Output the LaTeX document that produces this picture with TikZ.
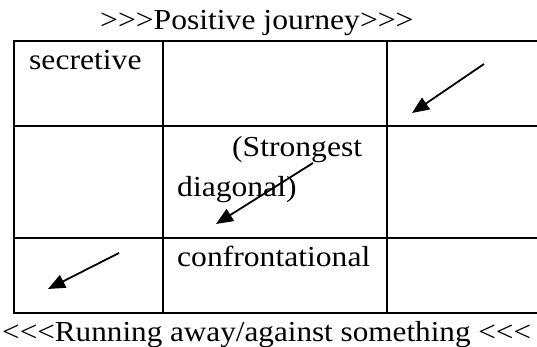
\documentclass[tikz,border=0pt]{standalone}
\usepackage{fontspec}
\setmainfont{Liberation Serif}[Ligatures=TeXOff]
\usepackage{graphicx}
\usetikzlibrary{arrows.meta}
\newcommand{\stretchtxt}[1]{\scalebox{1.09}[1]{#1}}
\tikzset{
  lbl/.style={anchor=base west, inner sep=0pt, font=\fontsize{29}{35}\selectfont},
  gridline/.style={line width=2pt},
  arr/.style={line width=1.8pt, -{Triangle[length=17pt,width=14pt]}}
}
\begin{document}
\begin{tikzpicture}[x=1pt,y=1pt]
\useasboundingbox (0,0) rectangle (537,347);
% table
\draw[gridline] (14,306) -- (537,306);
\draw[gridline] (14,221) -- (537,221);
\draw[gridline] (14,109) -- (537,109);
\draw[gridline] (14,34) -- (537,34);
\draw[gridline] (14,307) -- (14,33);
\draw[gridline] (163,307) -- (163,33);
\draw[gridline] (387,307) -- (387,33);
% texts
\node[lbl] (title) at (100,317) {\stretchtxt{>{}>{}>Positive journey>{}>{}>}};
\node[lbl] (secretive) at (29,277) {\stretchtxt{secretive}};
\node[lbl] (strongest) at (232,190) {\stretchtxt{(Strongest}};
\node[lbl] (diagonal) at (177,150) {\stretchtxt{diagonal)}};
\node[lbl] (confront) at (177,80) {\stretchtxt{confrontational}};
\node[lbl] (running) at (2,5) {\scalebox{1.075}[1]{<{}<{}<Running away/against something <{}<{}<}};
% arrows
\coordinate (a1s) at (484,283); \coordinate (a1e) at (412,234);
\coordinate (a2s) at (313,184); \coordinate (a2e) at (216,123);
\coordinate (a3s) at (119,94);  \coordinate (a3e) at (48,58);
\draw[arr] (a1s) -- (a1e);
\draw[arr] (a2s) -- (a2e);
\draw[arr] (a3s) -- (a3e);
\end{tikzpicture}
\end{document}
